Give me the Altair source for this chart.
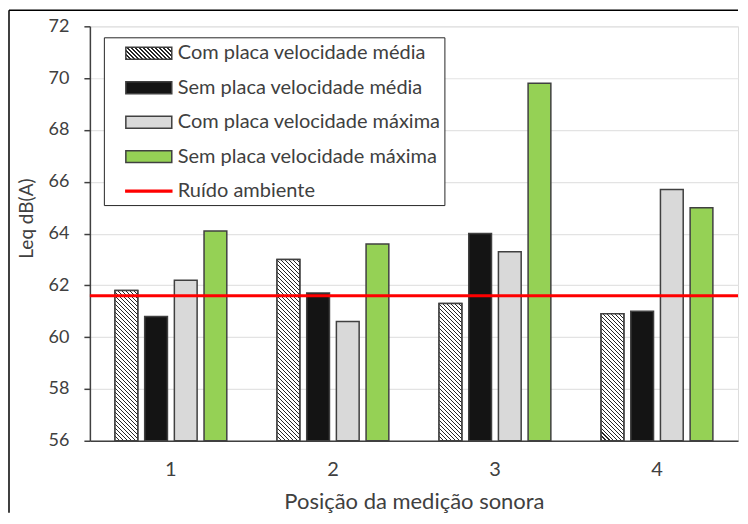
import altair as alt
import pandas as pd
import math

# ---------------- data ----------------
positions = ["1", "2", "3", "4"]
series = [
    "Com placa velocidade média",
    "Sem placa velocidade média",
    "Com placa velocidade máxima",
    "Sem placa velocidade máxima",
]
com_placa_media = [61.8, 63.0, 61.3, 60.9]
sem_placa_media = [60.8, 61.7, 64.0, 61.0]
com_placa_maxima = [62.2, 60.6, 63.3, 65.7]
sem_placa_maxima = [64.1, 63.6, 69.8, 65.0]
ambient_label = "Ruído ambiente"
ambient_value = [61.6]
y_ticks = [56, 58, 60, 62, 64, 66, 68, 70, 72]

values_by_series = [com_placa_media, sem_placa_media, com_placa_maxima, sem_placa_maxima]
rows = []
for s, vals in zip(series, values_by_series):
    for p, v in zip(positions, vals):
        rows.append({"pos": p, "series": s, "value": v})
df = pd.DataFrame(rows)
amb_df = pd.DataFrame({"series": [ambient_label], "value": ambient_value})
all_series = series + [ambient_label]
legend_df = pd.DataFrame({"series": all_series, "pos": positions[0], "value": y_ticks[0]})

# ---------------- style ----------------
W, H = 649, 415
Y0, Y1 = y_ticks[0], y_ticks[-1]
FONT = "Lato"
TXT = "#404040"
EDGE = "#404040"
PAD_IN, PAD_OUT, OFF_PAD = 0.31, 0.155, 0.233
band_w = W / (len(positions) - PAD_IN + 2 * PAD_OUT) * (1 - PAD_IN)
bar_w = band_w / (len(series) - OFF_PAD) * (1 - OFF_PAD)


def hatch(w, h, period=4.0, frac=0.42, dark="#262626", light="#ffffff"):
    """diagonal '\\' stripes as a hard-stop linear gradient (bbox units)"""
    r = h / w
    x2 = (1 + r) / (1 + r * r)
    y2 = 1 - r * (1 + r) / (1 + r * r)
    span = w + h
    n = int(math.ceil(span / period))
    stops = []
    for k in range(n):
        a = min(1.0, k * period / span)
        b = min(1.0, (k + frac) * period / span)
        c = min(1.0, (k + 1) * period / span)
        stops += [
            {"offset": round(a, 6), "color": dark},
            {"offset": round(b, 6), "color": dark},
            {"offset": round(b, 6), "color": light},
            {"offset": round(c, 6), "color": light},
        ]
    return {"gradient": "linear", "x1": 0, "y1": 1, "x2": round(x2, 6), "y2": round(y2, 6), "stops": stops}


def js_obj(g):
    stops = ",".join("{offset:%s,color:'%s'}" % (s["offset"], s["color"]) for s in g["stops"])
    return "{gradient:'linear',x1:%s,y1:%s,x2:%s,y2:%s,stops:[%s]}" % (
        g["x1"], g["y1"], g["x2"], g["y2"], stops)


legend_hatch = {"expr": js_obj(hatch(46, 12))}
fill_range = [legend_hatch, "#141414", "#d9d9d9", "#95d155", "#ff0000"]
stroke_range = [EDGE, EDGE, EDGE, EDGE, "#ff0000"]
rect_path = "M-2,-0.52L2,-0.52L2,0.52L-2,0.52Z"
line_path = "M-2,-0.07L2,-0.07L2,0.07L-2,0.07Z"
shape_range = [rect_path, rect_path, rect_path, rect_path, line_path]

fill_scale = alt.Scale(domain=all_series, range=fill_range)
stroke_scale = alt.Scale(domain=all_series, range=stroke_range)
shape_scale = alt.Scale(domain=all_series, range=shape_range)

legend = alt.Legend(
    title=None,
    orient="none",
    legendX=14,
    legendY=11,
    direction="vertical",
    symbolSize=23 * 23,
    symbolStrokeWidth=1.5,
    symbolOpacity=1,
    symbolOffset=29,
    labelOffset=16.5,
    labelFont=FONT,
    labelFontSize=20,
    labelColor=TXT,
    labelLimit=400,
    rowPadding=11.5,
    padding=3.5,
    fillColor="#ffffff",
    strokeColor="#262626",
)

x_enc = alt.X(
    "pos:N",
    scale=alt.Scale(domain=positions, paddingInner=PAD_IN, paddingOuter=PAD_OUT),
    axis=alt.Axis(
        title="Posição da medição sonora",
        labelAngle=0,
        ticks=False,
        tickSize=0,
        labelPadding=19,
        labelFont=FONT,
        labelFontSize=20,
        labelColor=TXT,
        titleFont=FONT,
        titleFontSize=22,
        titleFontWeight="normal",
        titleColor=TXT,
        titlePadding=12,
        domainColor=EDGE,
        domainWidth=1.5,
        grid=False,
    ),
)
xoff_enc = alt.XOffset(
    "series:N", scale=alt.Scale(domain=series, paddingInner=OFF_PAD, paddingOuter=0)
)
y_enc = alt.Y(
    "value:Q",
    scale=alt.Scale(domain=[Y0, Y1], nice=False, zero=False),
    axis=alt.Axis(
        title="Leq dB(A)",
        values=y_ticks,
        tickSize=6,
        tickColor=EDGE,
        tickWidth=1.5,
        labelPadding=15,
        labelFont=FONT,
        labelFontSize=18,
        labelColor=TXT,
        titleFont=FONT,
        titleFontSize=19,
        titleFontWeight="normal",
        titleColor=TXT,
        titlePadding=12,
        titleY=192,
        domainColor=EDGE,
        domainWidth=1.5,
        gridColor="#e3e3e3",
        gridWidth=1.2,
    ),
)

bars = (
    alt.Chart(df)
    .mark_bar(strokeWidth=1.5)
    .encode(
        x=x_enc,
        xOffset=xoff_enc,
        y=y_enc,
        y2=alt.datum(Y0),
        fill=alt.Fill("series:N", scale=fill_scale, legend=legend),
        stroke=alt.Stroke("series:N", scale=stroke_scale, legend=legend),
    )
)

layers = [bars]
for p, v in zip(positions, com_placa_media):
    h = (v - Y0) / (Y1 - Y0) * H
    layers.append(
        alt.Chart(df)
        .transform_filter((alt.datum.pos == p) & (alt.datum.series == series[0]))
        .mark_bar(fill=hatch(bar_w, h), stroke=EDGE, strokeWidth=1.5)
        .encode(x=x_enc, xOffset=xoff_enc, y=y_enc, y2=alt.datum(Y0))
    )

rule = (
    alt.Chart(amb_df)
    .mark_rule(strokeWidth=3)
    .encode(y=y_enc, stroke=alt.Stroke("series:N", scale=stroke_scale, legend=legend))
)
layers.append(rule)

# invisible carrier for the combined legend (fill + stroke + shape)
legend_carrier = (
    alt.Chart(legend_df)
    .mark_point(filled=True, opacity=0)
    .encode(
        x=x_enc,
        y=y_enc,
        shape=alt.Shape("series:N", scale=shape_scale, legend=legend),
        fill=alt.Fill("series:N", scale=fill_scale, legend=legend),
        stroke=alt.Stroke("series:N", scale=stroke_scale, legend=legend),
    )
)
layers.append(legend_carrier)

frame_top = alt.Chart(alt.Data(values=[{}])).mark_rule(color="#000000", strokeWidth=1.5).encode(
    x=alt.value(-81), x2=alt.value(W), y=alt.value(-16)
)
frame_left = alt.Chart(alt.Data(values=[{}])).mark_rule(color="#000000", strokeWidth=1.5).encode(
    x=alt.value(-81), y=alt.value(-16), y2=alt.value(487)
)
layers += [frame_top, frame_left]

chart = (
    alt.layer(*layers)
    .properties(width=W, height=H, padding={"left": 0, "top": 1, "right": 0, "bottom": 0})
    .configure_view(stroke="#595959", strokeWidth=1.5)
    .configure(background="#ffffff")
)

chart.save("out.html", embed_options={"renderer": "svg", "actions": False})
